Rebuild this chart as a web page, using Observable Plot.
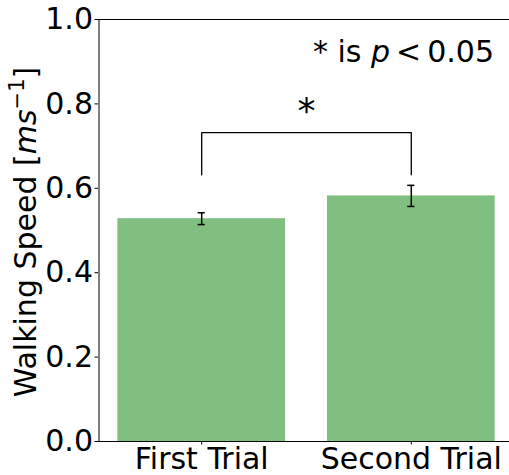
<!DOCTYPE html>
<html>
<head>
<meta charset="utf-8">
<script src="https://cdn.jsdelivr.net/npm/d3@7"></script>
<script src="https://cdn.jsdelivr.net/npm/@observablehq/plot@0.6"></script>
<style>
  html, body { margin: 0; padding: 0; background: white; overflow: hidden; }
  #chart { width: 509px; height: 475px; overflow: hidden; }
  #chart svg { max-width: none; }
</style>
</head>
<body>
<div id="chart"></div>
<script>
// ---- data ----
const categories = ["First Trial", "Second Trial"];
const means = [0.528, 0.582];
const errors = [0.014, 0.025];
const yTicks = [0.0, 0.2, 0.4, 0.6, 0.8, 1.0];
// significance annotation
const sigPair = [0, 1];
const bracketTop = 0.732;
const bracketLegBottom = 0.632;
const sigMark = "*";
const yLabelMain = "Walking Speed [";
const noteText = "* is ";

const data = categories.map((c, i) => ({i, cat: c, mean: means[i], err: errors[i]}));
const barHalf = 0.4;
const capHalf = 0.017;

const bracket = [
  {x: sigPair[0], y: bracketLegBottom},
  {x: sigPair[0], y: bracketTop},
  {x: sigPair[1], y: bracketTop},
  {x: sigPair[1], y: bracketLegBottom}
];

const font = "DejaVu Sans";
const fs = 30;
const plot = Plot.plot({
  width: 509,
  height: 475,
  marginLeft: 98,
  marginRight: 0,
  marginTop: 19,
  marginBottom: 34,
  x: {type: "linear", domain: [-0.49, 1.49], range: [98.5, 513.5]},
  y: {domain: [0, 1], range: [441, 19]},
  style: {fontFamily: font, fontSize: fs + "px", color: "black", background: "white"},
  marks: [
    Plot.rectY(data, {x1: d => d.i - barHalf, x2: d => d.i + barHalf, y1: 0, y2: "mean", fill: "#80bf80"}),
    Plot.ruleX(data, {x: "i", y1: d => d.mean - d.err, y2: d => d.mean + d.err, stroke: "black", strokeWidth: 1.5}),
    Plot.ruleY(data, {y: d => d.mean - d.err, x1: d => d.i - capHalf, x2: d => d.i + capHalf, stroke: "black", strokeWidth: 1.5}),
    Plot.ruleY(data, {y: d => d.mean + d.err, x1: d => d.i - capHalf, x2: d => d.i + capHalf, stroke: "black", strokeWidth: 1.5}),
    Plot.line(bracket, {x: "x", y: "y", stroke: "black", strokeWidth: 1.3}),
    Plot.text([sigMark], {x: (sigPair[0] + sigPair[1]) / 2, y: 0.781, text: d => d, fontSize: 36, lineAnchor: "middle", fill: "black"}),
    Plot.axisY({ticks: yTicks, tickFormat: d3.format(".1f"), tickSize: 3.5, tickPadding: 2, label: null, fontSize: fs}),
    Plot.axisX({ticks: data.map(d => d.i), tickFormat: i => categories[i], tickSize: 3.5, tickPadding: 2.5, label: null, fontSize: fs}),
    Plot.ruleX([-0.49], {stroke: "black", strokeWidth: 1}),
    Plot.ruleY([0], {stroke: "black", strokeWidth: 1}),
    Plot.ruleY([1], {stroke: "black", strokeWidth: 1})
  ]
});
document.getElementById("chart").appendChild(plot);

const svg = d3.select(plot);
const yScale = plot.scale("y");
const yMid = (yScale.apply(0) + yScale.apply(1)) / 2;

// y-axis label with math
const yl = svg.append("text")
  .attr("transform", `translate(36,${yMid + 2}) rotate(-90)`)
  .attr("text-anchor", "middle")
  .attr("font-family", font)
  .attr("font-size", fs)
  .attr("fill", "black");
yl.append("tspan").text(yLabelMain);
yl.append("tspan").attr("font-style", "italic").text("ms");
yl.append("tspan").attr("font-size", 21).attr("dy", -12).text("\u22121");
yl.append("tspan").attr("dy", 12).text("]");

// note text
const note = svg.append("text")
  .attr("x", 494)
  .attr("y", 61.7)
  .attr("text-anchor", "end")
  .attr("font-family", font)
  .attr("font-size", fs)
  .attr("fill", "black");
note.append("tspan").text(noteText);
note.append("tspan").attr("font-style", "italic").text("p");
note.append("tspan").text("\u2009<\u20090.05");
</script>
</body>
</html>
